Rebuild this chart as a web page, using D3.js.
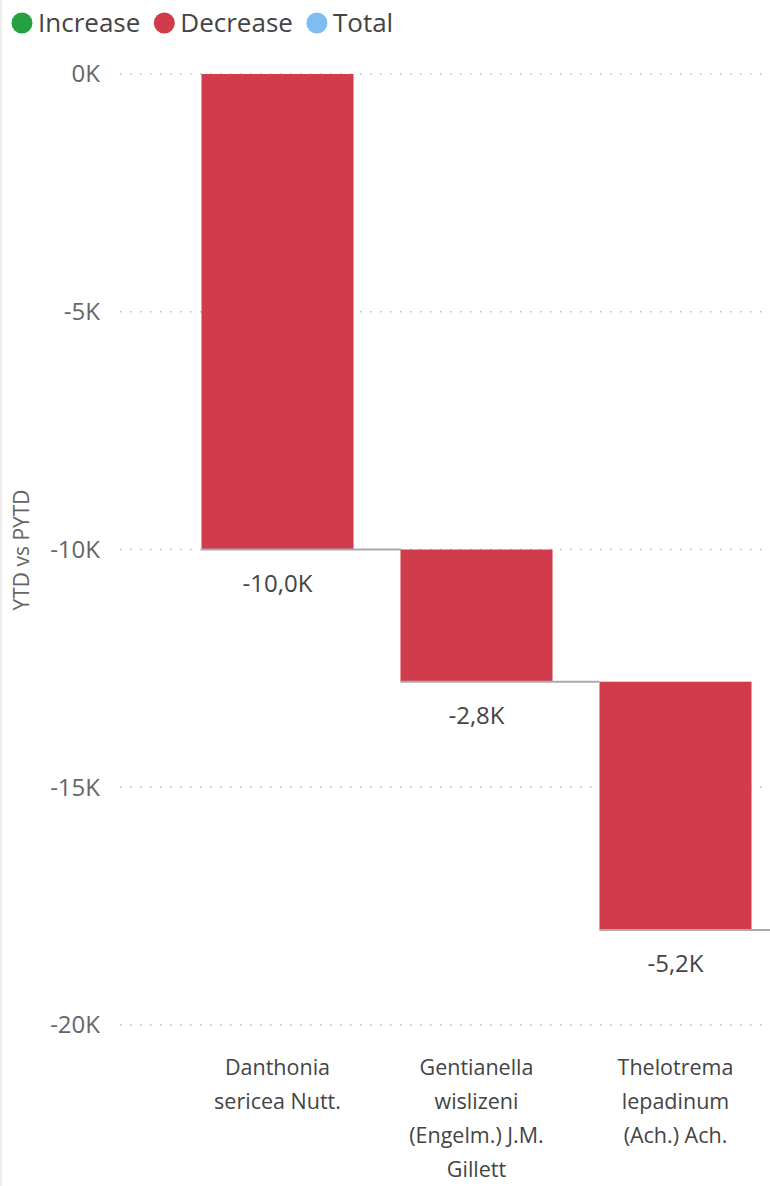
<!DOCTYPE html>
<html><head><meta charset="utf-8">
<script src="https://cdn.jsdelivr.net/npm/d3@7"></script>
<style>body{margin:0;background:#fff}svg{display:block}text{font-family:"Open Sans","Noto Sans",sans-serif}</style>
</head><body><svg id="c" width="770" height="1186"></svg>
<script>
const categories = ["Danthonia sericea Nutt.", "Gentianella wislizeni (Engelm.) J.M. Gillett", "Thelotrema lepadinum (Ach.) Ach."];
const values = [-10000, -2780, -5220];
const labels = ["-10,0K", "-2,8K", "-5,2K"];
const yTicks = [0, -5000, -10000, -15000, -20000];
const yTickLabels = ["0K", "-5K", "-10K", "-15K", "-20K"];
const legendItems = ["Increase", "Decrease", "Total"];
const legendColors = ["#24a140", "#d03c4c", "#7dbdf2"];

const svg = d3.select("#c");
const W = 770, H = 1186;
const x = d3.scaleBand().domain(categories).range([178, 775]).paddingInner(0.236).paddingOuter(0.118);
const y = d3.scaleLinear().domain([0, -20000]).range([74, 1025]);

// left border
svg.append("line").attr("x1",1).attr("x2",1).attr("y1",0).attr("y2",H).attr("stroke","#e6e6e6").attr("stroke-width",1.5);

// gridlines
svg.append("g").selectAll("line").data(yTicks).join("line")
  .attr("x1",120).attr("x2",W).attr("y1",d=>y(d)).attr("y2",d=>y(d))
  .attr("stroke","#bbb").attr("stroke-width",1.5).attr("stroke-dasharray","1.5,8.5");

// y tick labels
svg.append("g").selectAll("text").data(yTicks).join("text")
  .attr("x",100).attr("y",d=>y(d)).attr("dy","0.35em").attr("text-anchor","end")
  .attr("font-size",24).attr("fill","#666").text((d,i)=>yTickLabels[i]);

// y title
svg.append("text").attr("transform","translate(29,550) rotate(-90)").attr("text-anchor","middle")
  .attr("font-size",21).attr("fill","#666").text("YTD vs PYTD");

// waterfall
let cum = 0;
const bars = categories.map((c,i)=>{ const s=cum; cum+=values[i]; return {c, s, e:cum, lab:labels[i]}; });

svg.append("g").selectAll("rect").data(bars).join("rect")
  .attr("x",d=>x(d.c)).attr("width",x.bandwidth())
  .attr("y",d=>y(Math.max(d.s,d.e))).attr("height",d=>Math.abs(y(d.e)-y(d.s)))
  .attr("fill","#d03c4c");

// connectors
svg.append("g").selectAll("line").data(bars).join("line")
  .attr("x1",d=>x(d.c)).attr("x2",(d,i)=> i<bars.length-1 ? x(bars[i+1].c) : W)
  .attr("y1",d=>y(d.e)).attr("y2",d=>y(d.e))
  .attr("stroke","#aaa").attr("stroke-width",2);

// data labels
svg.append("g").selectAll("text").data(bars).join("text")
  .attr("x",d=>x(d.c)+x.bandwidth()/2).attr("y",d=>y(d.e)+34).attr("dy","0.35em").attr("text-anchor","middle")
  .attr("font-size",24).attr("fill","#444").text(d=>d.lab);

// x labels with wrapping
svg.append("g").selectAll("text").data(categories).join("text")
  .attr("x",d=>x(d)+x.bandwidth()/2).attr("y",1067).attr("dy","0.35em").attr("text-anchor","middle")
  .attr("font-size",21.5).attr("fill","#444")
  .each(function(d){
    const t = d3.select(this);
    const words = d.split(" ");
    let line = [], lines = [];
    const tmp = t.append("tspan");
    words.forEach(w=>{
      const test = line.concat(w).join(" ");
      tmp.text(test);
      if (tmp.node().getComputedTextLength() > 160 && line.length) { lines.push(line.join(" ")); line=[w]; }
      else line.push(w);
    });
    lines.push(line.join(" "));
    tmp.remove();
    lines.forEach((l,i)=> t.append("tspan").attr("x",x(d)+x.bandwidth()/2).attr("dy", i?34:"0.35em").text(l));
  });

// legend
const lg = svg.append("g");
let lx = 12;
legendItems.forEach((n,i)=>{
  lg.append("circle").attr("cx",lx+10).attr("cy",23).attr("r",10.5).attr("fill",legendColors[i]);
  const t = lg.append("text").attr("x",lx+26).attr("y",23).attr("dy","0.35em").attr("font-size",26).attr("fill","#444").text(n);
  lx += 26 + t.node().getComputedTextLength() + 14;
});
</script></body></html>
